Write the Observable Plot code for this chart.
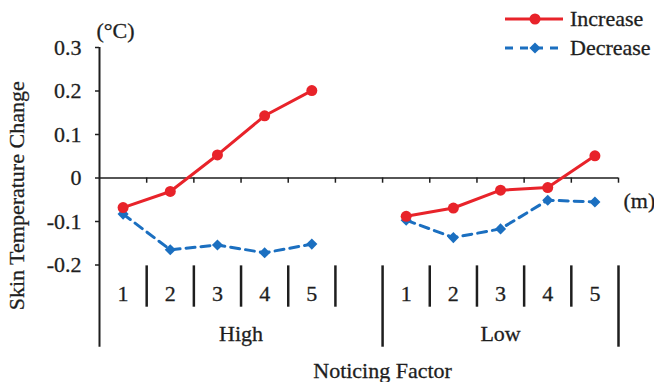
<!DOCTYPE html>
<html><head><meta charset="utf-8">
<script src="https://cdn.jsdelivr.net/npm/d3@7"></script>
<script src="https://cdn.jsdelivr.net/npm/@observablehq/plot@0.6"></script>
<style>
body{margin:0;background:#fff}
#wrap{position:relative;width:654px;height:382px}
#legend{position:absolute;left:500px;top:0}
svg, svg text{font-family:"Liberation Serif","Times New Roman",serif !important}
svg text{stroke:#1e1e1e;stroke-width:0.3px}
</style>
</head><body><div id="wrap"><div id="legend"></div></div>
<script>
// ---- data ----
const groups = ["High", "Low"];
const distances = ["1", "2", "3", "4", "5"];
const seriesNames = ["Increase", "Decrease"];
const increaseHigh = [-0.068, -0.031, 0.053, 0.143, 0.201];
const decreaseHigh = [-0.083, -0.165, -0.154, -0.172, -0.152];
const increaseLow  = [-0.088, -0.069, -0.028, -0.022, 0.051];
const decreaseLow  = [-0.097, -0.137, -0.117, -0.051, -0.055];
const yTicks = [0.3, 0.2, 0.1, 0, -0.1, -0.2];
const colors = {Increase: "#e8232a", Decrease: "#1b6fc0"};

// ---- build rows: slot index along the categorical axis (High 1-5, empty slot, Low 1-5) ----
const values = {Increase: [increaseHigh, increaseLow], Decrease: [decreaseHigh, decreaseLow]};
const rows = [];
seriesNames.forEach(s => groups.forEach((g, gi) => distances.forEach((d, i) => {
  rows.push({series: s, group: g, dist: d, slot: gi * 6 + i + 0.5, value: values[s][gi][i]});
})));
const slots = rows.filter(r => r.series === "Increase");
const nSlots = groups.length * 6 - 1; // 11
const groupLabels = groups.map((g, gi) => ({g, x: gi === 0 ? 3 : 8.5}));
const shortSeps = d3.range(1, nSlots).filter(k => k !== 6);
const tallSeps = [6, nSlots];

// vertical extents of the lower category table (in y units)
const sepTop = -0.202, sepShortBottom = -0.297, sepTallBottom = -0.389;

const font = "'Liberation Serif', 'Times New Roman', serif";
const fs = 22;
const ink = "#1e1e1e";

const plot = Plot.plot({
  width: 654, height: 382,
  marginLeft: 99, marginRight: 36, marginTop: 47, marginBottom: 117.5,
  style: {fontFamily: font, fontSize: fs + "px", color: ink, background: "transparent"},
  x: {domain: [0, nSlots], axis: null},
  y: {domain: [-0.2, 0.3], axis: null},
  marks: [
    Plot.axisY(yTicks, {tickSize: 4, tickPadding: 14, tickFormat: d => d === 0 ? "0" : d.toFixed(1), fontSize: fs, stroke: ink, fill: ink, label: null, strokeWidth: 1.5}),
    Plot.ruleX([0], {y1: 0.3, y2: sepTallBottom, stroke: ink, strokeWidth: 2}),
    Plot.ruleY([0], {x1: 0, x2: nSlots, stroke: ink, strokeWidth: 1.5}),
    Plot.ruleX(d3.range(1, nSlots + 1), {x: d => d, y1: 0, y2: -0.012, stroke: ink, strokeWidth: 1.5}),
    Plot.ruleX(shortSeps, {x: d => d, y1: sepTop, y2: sepShortBottom, stroke: ink, strokeWidth: 2.5}),
    Plot.ruleX(tallSeps, {x: d => d, y1: sepTop, y2: sepTallBottom, stroke: ink, strokeWidth: 2.5}),
    Plot.text(slots, {x: "slot", y: -0.267, text: "dist", fontSize: fs, fill: ink, fontFamily: font}),
    Plot.text(groupLabels, {x: "x", y: -0.358, text: "g", fontSize: fs, fill: ink, fontFamily: font}),
    Plot.text(["Noticing Factor"], {x: 6, y: -0.444, text: d => d, fontSize: fs, fill: ink, fontFamily: font}),
    Plot.text(["Skin Temperature Change"], {x: -1.74, y: -0.041, rotate: -90, text: d => d, fontSize: fs, fill: ink, fontFamily: font}),
    Plot.text(["(°C)"], {x: 0, y: 0.3, dx: -3, dy: -17, textAnchor: "start", text: d => d, fontSize: fs, fill: ink, fontFamily: font}),
    Plot.text(["(m)"], {x: nSlots, y: 0, dx: 5, dy: 23, textAnchor: "start", text: d => d, fontSize: fs, fill: ink, fontFamily: font}),
    Plot.line(rows.filter(r => r.series === "Decrease"), {x: "slot", y: "value", z: "group", stroke: colors.Decrease, strokeWidth: 3, strokeDasharray: "9,6"}),
    Plot.line(rows.filter(r => r.series === "Increase"), {x: "slot", y: "value", z: "group", stroke: colors.Increase, strokeWidth: 3}),
    Plot.dot(rows.filter(r => r.series === "Decrease"), {x: "slot", y: "value", symbol: "diamond2", r: 5, fill: colors.Decrease, stroke: "none"}),
    Plot.dot(rows.filter(r => r.series === "Increase"), {x: "slot", y: "value", symbol: "circle", r: 5.5, fill: colors.Increase, stroke: "none"})
  ]
});
document.getElementById("wrap").prepend(plot);

// ---- legend ----
const lg = d3.select("#legend").append("svg").attr("width", 154).attr("height", 62)
  .style("font-family", font).style("font-size", fs + "px");
seriesNames.forEach((s, i) => {
  const y = 19 + i * 29;
  const g = lg.append("g");
  g.append("line").attr("x1", 5).attr("x2", 63).attr("y1", y).attr("y2", y)
    .attr("stroke", colors[s]).attr("stroke-width", 3)
    .attr("stroke-dasharray", s === "Decrease" ? "8,7" : null);
  if (s === "Increase") g.append("circle").attr("cx", 35).attr("cy", y).attr("r", 5.5).attr("fill", colors[s]);
  else g.append("path").attr("d", d3.symbol(d3.symbolDiamond2, 80)()).attr("transform", `translate(35,${y})`).attr("fill", colors[s]);
  g.append("text").attr("x", 70).attr("y", y).attr("dy", "0.32em").attr("fill", ink).text(s);
});
</script>
</body></html>
